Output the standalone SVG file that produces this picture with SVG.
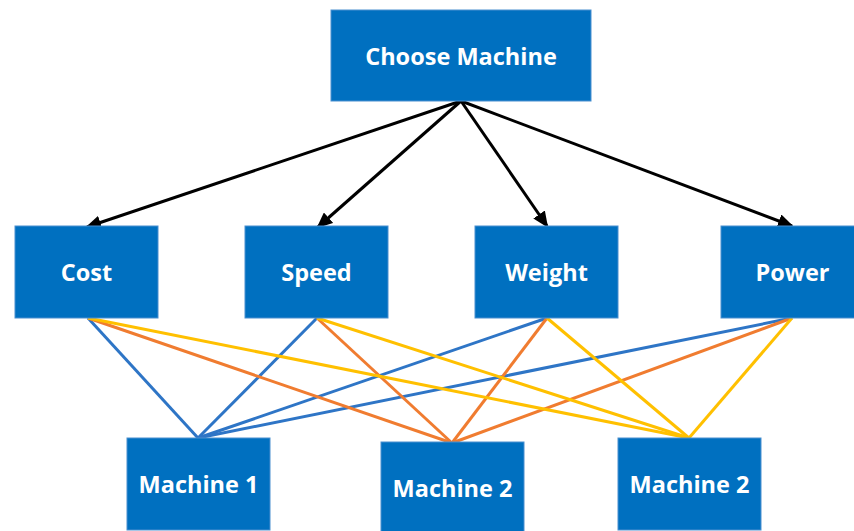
<svg xmlns="http://www.w3.org/2000/svg" width="854" height="531" viewBox="0 0 854 531">
  <style>
    .box { fill: #0070C0; stroke: #4A8FD0; stroke-width: 1; }
    .label { fill: #FFFFFF; font-family: "Open Sans", "Liberation Sans", sans-serif; font-weight: bold; font-size: 23.5px; text-anchor: middle; }
    .arrow { stroke: #000000; stroke-width: 3; fill: none; marker-end: url(#head); }
    .blue { stroke: #2E75C6; stroke-width: 3; fill: none; }
    .orange { stroke: #F07C30; stroke-width: 3; fill: none; }
    .yellow { stroke: #FFC000; stroke-width: 3; fill: none; }
  </style>
  <defs>
    <marker id="head" markerUnits="userSpaceOnUse" markerWidth="16" markerHeight="14" refX="14" refY="7" orient="auto">
      <path d="M0,0 L16,7 L0,14 Z" fill="#000000"/>
    </marker>
  </defs>
  <rect width="854" height="531" fill="#FFFFFF"/>

  <g id="connectors">
    <!-- criteria to alternatives -->
    <line class="blue" x1="88" y1="318" x2="198" y2="438"/>
    <line class="blue" x1="317" y1="318" x2="198" y2="438"/>
    <line class="blue" x1="547" y1="318" x2="198" y2="438"/>
    <line class="blue" x1="792" y1="318" x2="198" y2="438"/>
    <line class="orange" x1="88" y1="318" x2="452" y2="443"/>
    <line class="orange" x1="317" y1="318" x2="452" y2="443"/>
    <line class="orange" x1="547" y1="318" x2="452" y2="443"/>
    <line class="orange" x1="792" y1="318" x2="452" y2="443"/>
    <line class="yellow" x1="88" y1="318" x2="689" y2="438"/>
    <line class="yellow" x1="317" y1="318" x2="689" y2="438"/>
    <line class="yellow" x1="547" y1="318" x2="689" y2="438"/>
    <line class="yellow" x1="792" y1="318" x2="689" y2="438"/>
    <!-- goal to criteria -->
    <line class="arrow" x1="461" y1="101" x2="87" y2="227"/>
    <line class="arrow" x1="461" y1="101" x2="318" y2="227"/>
    <line class="arrow" x1="461" y1="101" x2="547" y2="226"/>
    <line class="arrow" x1="461" y1="101" x2="792" y2="226"/>
  </g>

  <g id="goal">
    <rect class="box" x="331" y="10" width="260" height="91"/>
    <text class="label" x="461" y="65">Choose Machine</text>
  </g>

  <g id="cost">
    <rect class="box" x="15" y="226" width="143" height="92"/>
    <text class="label" x="86.5" y="281">Cost</text>
  </g>
  <g id="speed">
    <rect class="box" x="245" y="226" width="143" height="92"/>
    <text class="label" x="316.5" y="281">Speed</text>
  </g>
  <g id="weight">
    <rect class="box" x="475" y="226" width="143" height="92"/>
    <text class="label" x="546.5" y="281">Weight</text>
  </g>
  <g id="power">
    <rect class="box" x="721" y="226" width="143" height="92"/>
    <text class="label" x="792.5" y="281">Power</text>
  </g>

  <g id="machine1">
    <rect class="box" x="127" y="438" width="143" height="92"/>
    <text class="label" x="198.5" y="493">Machine 1</text>
  </g>
  <g id="machine2a">
    <rect class="box" x="381" y="442" width="143" height="92"/>
    <text class="label" x="452.5" y="497">Machine 2</text>
  </g>
  <g id="machine2b">
    <rect class="box" x="618" y="438" width="143" height="92"/>
    <text class="label" x="689.5" y="493">Machine 2</text>
  </g>
</svg>
